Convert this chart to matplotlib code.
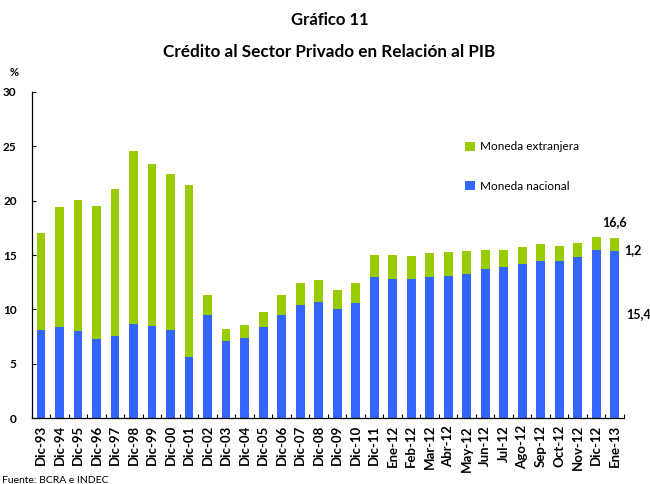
import numpy as np
import matplotlib
matplotlib.use("Agg")
import matplotlib.pyplot as plt

plt.rcParams['font.family'] = ['Lato', 'DejaVu Sans']

periodos = ['Dic-93', 'Dic-94', 'Dic-95', 'Dic-96', 'Dic-97', 'Dic-98', 'Dic-99',
            'Dic-00', 'Dic-01', 'Dic-02', 'Dic-03', 'Dic-04', 'Dic-05', 'Dic-06',
            'Dic-07', 'Dic-08', 'Dic-09', 'Dic-10', 'Dic-11', 'Ene-12', 'Feb-12',
            'Mar-12', 'Abr-12', 'May-12', 'Jun-12', 'Jul-12', 'Ago-12', 'Sep-12',
            'Oct-12', 'Nov-12', 'Dic-12', 'Ene-13']

total = [17.0, 19.4, 20.1, 19.5, 21.1, 24.6, 23.4, 22.5, 21.4, 11.3, 8.2, 8.6,
         9.8, 11.3, 12.45, 12.7, 11.8, 12.45, 15.05, 15.05, 14.95, 15.15, 15.25,
         15.35, 15.5, 15.5, 15.7, 16.0, 15.8, 16.15, 16.7, 16.6]
nacional = [8.15, 8.35, 8.0, 7.25, 7.6, 8.7, 8.5, 8.15, 5.6, 9.5, 7.1, 7.4,
            8.35, 9.45, 10.4, 10.7, 10.05, 10.55, 12.95, 12.8, 12.8, 13.0, 13.1,
            13.3, 13.7, 13.9, 14.2, 14.5, 14.5, 14.85, 15.45, 15.4]

nacional = np.array(nacional)
extranjera = np.array(total) - nacional

azul = '#3366ff'
verde = '#99cc00'

fig = plt.figure(figsize=(6.5, 4.84), dpi=100)
ax = fig.add_axes([0.049, 0.136, 0.911, 0.674])

x = np.arange(len(periodos))
b_nac = ax.bar(x, nacional, width=0.47, color=azul, label='Moneda nacional')
b_ext = ax.bar(x, extranjera, width=0.47, bottom=nacional, color=verde,
               label='Moneda extranjera')

ax.set_xlim(-0.5, len(periodos) - 0.5)
ax.set_ylim(0, 30)
ax.set_yticks(np.arange(0, 31, 5))
ax.set_yticklabels([str(v) for v in range(0, 31, 5)], fontweight='bold', fontsize=8.5)

ax.set_xticks(x)
ax.set_xticklabels(periodos, rotation=90, fontweight='bold', fontsize=9.5)
ax.tick_params(axis='x', which='major', length=0, pad=5)
ax.set_xticks(np.arange(-0.5, len(periodos), 1), minor=True)
ax.tick_params(axis='x', which='minor', direction='in', length=3, width=0.8)
ax.tick_params(axis='y', direction='in', length=3, width=0.8, pad=11)

for s in ['top', 'right']:
    ax.spines[s].set_visible(False)
for s in ['left', 'bottom']:
    ax.spines[s].set_linewidth(0.9)

ax.legend([b_ext, b_nac], ['Moneda extranjera', 'Moneda nacional'],
          loc='upper left', bbox_to_anchor=(0.707, 0.72), bbox_transform=fig.transFigure,
          frameon=False, fontsize=8.5, handlelength=0.8, handleheight=0.8,
          handletextpad=0.4, labelspacing=2.4, borderpad=0)

i = len(periodos) - 1
ax.annotate(f'{total[i]:.1f}'.replace('.', ','), xy=(i, total[i]), xytext=(0, 11),
            textcoords='offset points', ha='center', va='center',
            fontweight='bold', fontsize=9, annotation_clip=False)
ax.annotate(f'{extranjera[i]:.1f}'.replace('.', ','), xy=(i, nacional[i] + extranjera[i] / 2),
            xytext=(7, -4), textcoords='offset points', ha='left', va='center',
            fontweight='bold', fontsize=9, annotation_clip=False)
ax.annotate(f'{nacional[i]:.1f}'.replace('.', ','), xy=(i, nacional[i] / 2),
            xytext=(8, 15), textcoords='offset points', ha='left', va='center',
            fontweight='bold', fontsize=9, annotation_clip=False)

fig.text(0.507, 0.958, 'Gráfico 11', ha='center', va='center', fontweight='bold', fontsize=12)
fig.text(0.507, 0.893, 'Crédito al Sector Privado en Relación al PIB', ha='center',
         va='center', fontweight='bold', fontsize=12.3)
fig.text(0.022, 0.85, '%', ha='center', va='center', fontweight='bold', fontsize=8)
fig.text(0.003, 0.008, 'Fuente: BCRA e INDEC', ha='left', va='center', fontsize=7.5)

fig.savefig('out.png', dpi=100)
